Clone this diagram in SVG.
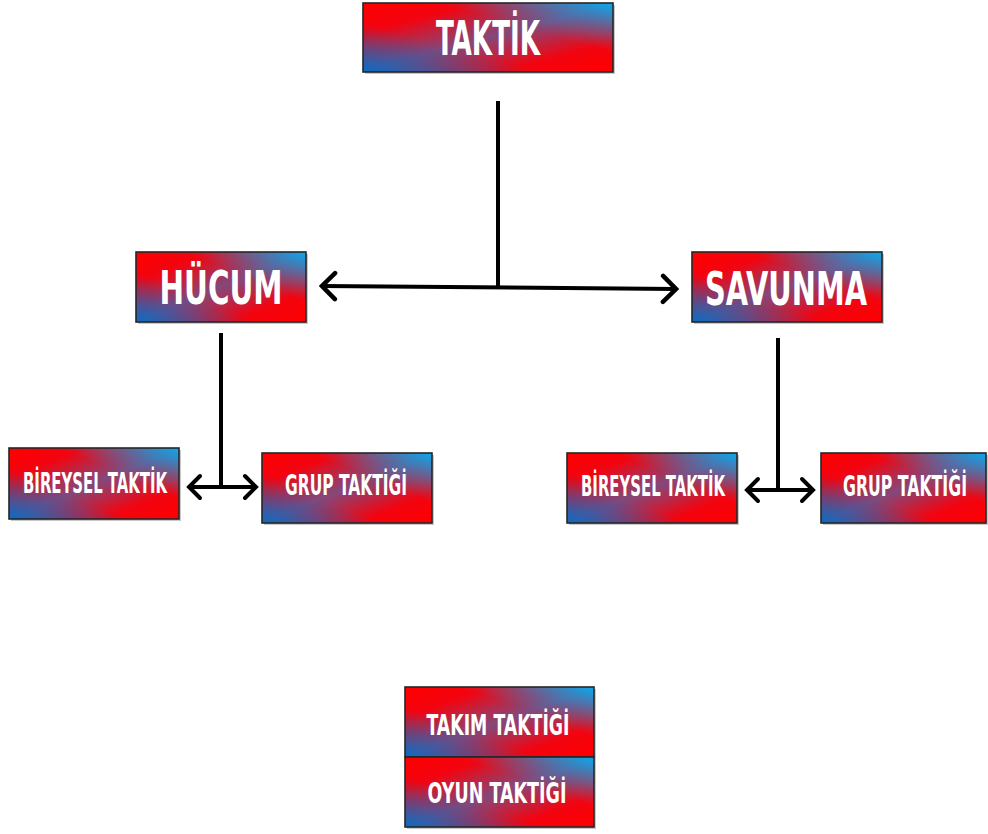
<svg xmlns="http://www.w3.org/2000/svg" width="988" height="834" viewBox="0 0 988 834">
<defs>
<linearGradient id="gBase" x1="0" y1="0" x2="1" y2="1">
<stop offset="0" stop-color="#ff0000"/>
<stop offset="0.22" stop-color="#f20410"/>
<stop offset="0.5" stop-color="#84487a"/>
<stop offset="0.78" stop-color="#f20410"/>
<stop offset="1" stop-color="#ff0000"/>
</linearGradient>
<linearGradient id="gBlue" x1="0" y1="1" x2="1" y2="0">
<stop offset="0" stop-color="#0a6cc4" stop-opacity="1"/>
<stop offset="0.36" stop-color="#2a5aa8" stop-opacity="0"/>
<stop offset="0.64" stop-color="#2a8ac8" stop-opacity="0"/>
<stop offset="1" stop-color="#0ca8ec" stop-opacity="1"/>
</linearGradient>
<marker id="arrBig" viewBox="-17 -16 20 32" refX="0" refY="0" markerWidth="20" markerHeight="32" markerUnits="userSpaceOnUse" orient="auto-start-reverse">
<path d="M-13,-13 L0,0 L-13,13" fill="none" stroke="#000" stroke-width="4.5" stroke-linecap="round" stroke-linejoin="miter"/>
</marker>
<marker id="arrSmall" viewBox="-15 -14 18 28" refX="0" refY="0" markerWidth="18" markerHeight="28" markerUnits="userSpaceOnUse" orient="auto-start-reverse">
<path d="M-11,-11 L0,0 L-11,11" fill="none" stroke="#000" stroke-width="4" stroke-linecap="round" stroke-linejoin="miter"/>
</marker>
</defs>
<style>
.shadow{fill:#c8c8c8;}
.base{fill:url(#gBase);}
.blue{fill:url(#gBlue);}
.frame{fill:none;stroke:#262626;stroke-width:1.6;}
.lbl{fill:#ffffff;font-family:"Liberation Sans Narrow","DejaVu Sans Condensed","Liberation Sans",Arial,sans-serif;font-weight:bold;text-anchor:middle;}
.con{fill:none;stroke:#000;stroke-width:4;stroke-linecap:butt;}
</style>
<rect width="988" height="834" fill="#ffffff"/>

<g id="connectors">
<line class="con" x1="498" y1="101" x2="498" y2="287"/>
<line class="con" x1="322" y1="286" x2="676" y2="289" marker-start="url(#arrBig)" marker-end="url(#arrBig)"/>
<line class="con" x1="221" y1="333" x2="221" y2="487"/>
<line class="con" x1="189" y1="487" x2="256" y2="487" marker-start="url(#arrSmall)" marker-end="url(#arrSmall)"/>
<line class="con" x1="778" y1="338" x2="778" y2="490"/>
<line class="con" x1="747" y1="490" x2="813" y2="490" marker-start="url(#arrSmall)" marker-end="url(#arrSmall)"/>
</g>

<g id="taktik">
<rect class="shadow" x="365" y="5" width="250" height="69"/>
<rect class="base" x="363" y="3" width="250" height="69"/>
<rect class="blue" x="363" y="3" width="250" height="69"/>
<rect class="frame" x="363" y="3" width="250" height="69"/>
<text class="lbl" x="488" y="55" font-size="48" textLength="104" lengthAdjust="spacingAndGlyphs">TAKTİK</text>
</g>

<g id="hucum">
<rect class="shadow" x="138" y="254" width="170" height="70"/>
<rect class="base" x="136" y="252" width="170" height="70"/>
<rect class="blue" x="136" y="252" width="170" height="70"/>
<rect class="frame" x="136" y="252" width="170" height="70"/>
<text class="lbl" x="221" y="304" font-size="47" textLength="123" lengthAdjust="spacingAndGlyphs">HÜCUM</text>
</g>

<g id="savunma">
<rect class="shadow" x="694" y="254" width="190" height="70"/>
<rect class="base" x="692" y="252" width="190" height="70"/>
<rect class="blue" x="692" y="252" width="190" height="70"/>
<rect class="frame" x="692" y="252" width="190" height="70"/>
<text class="lbl" x="786" y="305" font-size="46" textLength="162" lengthAdjust="spacingAndGlyphs">SAVUNMA</text>
</g>

<g id="hucum-bireysel">
<rect class="shadow" x="11" y="450" width="170" height="71"/>
<rect class="base" x="9" y="448" width="170" height="71"/>
<rect class="blue" x="9" y="448" width="170" height="71"/>
<rect class="frame" x="9" y="448" width="170" height="71"/>
<text class="lbl" x="95" y="493" font-size="29" textLength="144" lengthAdjust="spacingAndGlyphs">BİREYSEL TAKTİK</text>
</g>

<g id="hucum-grup">
<rect class="shadow" x="264" y="455" width="170" height="70"/>
<rect class="base" x="262" y="453" width="170" height="70"/>
<rect class="blue" x="262" y="453" width="170" height="70"/>
<rect class="frame" x="262" y="453" width="170" height="70"/>
<text class="lbl" x="346" y="495" font-size="29" textLength="122" lengthAdjust="spacingAndGlyphs">GRUP TAKTİĞİ</text>
</g>

<g id="savunma-bireysel">
<rect class="shadow" x="569" y="455" width="170" height="70"/>
<rect class="base" x="567" y="453" width="170" height="70"/>
<rect class="blue" x="567" y="453" width="170" height="70"/>
<rect class="frame" x="567" y="453" width="170" height="70"/>
<text class="lbl" x="653" y="496" font-size="29" textLength="144" lengthAdjust="spacingAndGlyphs">BİREYSEL TAKTİK</text>
</g>

<g id="savunma-grup">
<rect class="shadow" x="823" y="455" width="165" height="70"/>
<rect class="base" x="821" y="453" width="165" height="70"/>
<rect class="blue" x="821" y="453" width="165" height="70"/>
<rect class="frame" x="821" y="453" width="165" height="70"/>
<text class="lbl" x="905" y="496" font-size="29" textLength="124" lengthAdjust="spacingAndGlyphs">GRUP TAKTİĞİ</text>
</g>

<g id="takim-taktigi">
<rect class="shadow" x="407" y="689" width="189" height="70"/>
<rect class="base" x="405" y="687" width="189" height="70"/>
<rect class="blue" x="405" y="687" width="189" height="70"/>
<rect class="frame" x="405" y="687" width="189" height="70"/>
<text class="lbl" x="498" y="735" font-size="28" textLength="143" lengthAdjust="spacingAndGlyphs">TAKIM TAKTİĞİ</text>
</g>

<g id="oyun-taktigi">
<rect class="shadow" x="407" y="759" width="189" height="70"/>
<rect class="base" x="405" y="757" width="189" height="70"/>
<rect class="blue" x="405" y="757" width="189" height="70"/>
<rect class="frame" x="405" y="757" width="189" height="70"/>
<text class="lbl" x="497" y="803" font-size="28" textLength="139" lengthAdjust="spacingAndGlyphs">OYUN TAKTİĞİ</text>
</g>
</svg>
